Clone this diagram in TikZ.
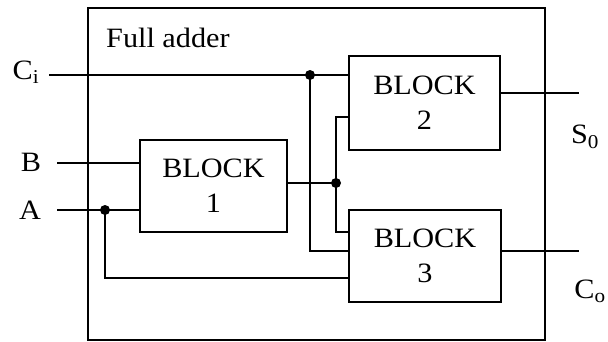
\documentclass[tikz,border=0pt]{standalone}
\usepackage{fontspec}
\setmainfont{Liberation Serif}[FakeStretch=1.08]
\begin{document}
\begin{tikzpicture}[x=1pt,y=-1pt,
  every node/.style={font=\fontsize{28}{35}\selectfont},
  blk/.style={draw, line width=1.7pt, align=center, inner sep=0pt},
  wire/.style={line width=1.6pt},
  jdot/.style={circle, fill, inner sep=0pt, minimum size=10pt}]
\useasboundingbox (0,0) rectangle (608,341);
\node[draw, line width=1.7pt, minimum width=457pt, minimum height=332pt, inner sep=0pt] (frame) at (316.5,174) {};
\node[anchor=west, inner sep=0pt] (title) at (106,38) {Full adder};
\node[blk, minimum width=147pt, minimum height=92pt] (b1) at (213.5,186) {BLOCK\\1};
\node[blk, minimum width=151pt, minimum height=94pt] (b2) at (424.5,103) {BLOCK\\2};
\node[blk, minimum width=152pt, minimum height=92pt] (b3) at (425,256) {BLOCK\\3};
% labels
\node (lci) at (26,72) {C\textsubscript{i}};
\node (lb) at (31,162) {B};
\node (la) at (30,210) {A};
\node (lso) at (585,137) {S\textsubscript{0}};
\node (lco) at (590,291) {C\textsubscript{o}};
% pins
\coordinate (ci) at (49,75);
\coordinate (bin) at (57,163);
\coordinate (ain) at (57,210);
\coordinate (so) at (579,93);
\coordinate (co) at (579,251);
\coordinate (p2b) at (349,117);
\coordinate (p3a) at (349,278);
\coordinate (p3j) at (349,232);
\coordinate (p3c) at (349,251);
\node[jdot] (dci) at (310,75) {};
\node[jdot] (da) at (105,210) {};
\node[jdot] (dj) at (336,183) {};
% wires
\draw[wire] (ci) -- (b2.west |- ci);
\draw[wire] (bin) -- (b1.west |- bin);
\draw[wire] (ain) -- (b1.west |- ain);
\draw[wire] (da.center) |- (p3a);
\draw[wire] (b1.east |- dj) -- (dj.center);
\draw[wire] (p2b) -| (dj.center) |- (p3j);
\draw[wire] (dci.center) |- (p3c);
\draw[wire] (b2.east |- so) -- (so);
\draw[wire] (b3.east |- co) -- (co);
\end{tikzpicture}
\end{document}
